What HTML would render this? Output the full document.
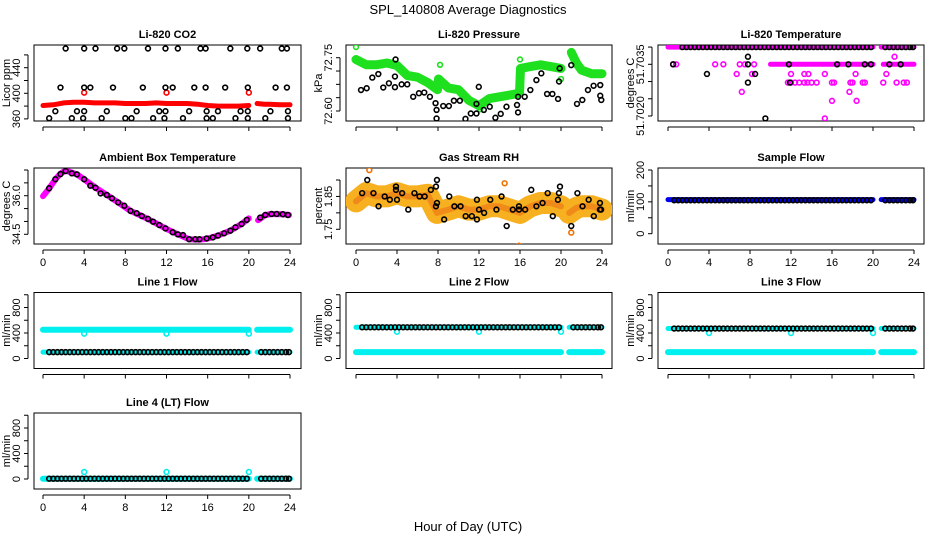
<!DOCTYPE html>
<html><head><meta charset="utf-8"><style>
html,body{margin:0;padding:0;background:#fff;}
svg{display:block;font-family:"Liberation Sans",Arial,sans-serif;}
</style></head><body>
<svg id="chart" width="936" height="540" viewBox="0 0 936 540" xmlns="http://www.w3.org/2000/svg">
<text x="468" y="14" text-anchor="middle" font-size="13">SPL_140808  Average Diagnostics</text>
<text x="468" y="531" text-anchor="middle" font-size="13">Hour of Day (UTC)</text>
</svg>
<script>
// ---------- DATA ----------
const xTicks = [0,4,8,12,16,20,24];
const ringHours = [0.6,1.0,1.4,1.8,2.2,2.6,3.0,3.4,3.8,4.2,4.6,5.0,5.4,5.8,6.2,6.6,7.0,7.4,7.8,8.2,8.6,9.0,9.4,9.8,10.2,10.6,11.0,11.4,11.8,12.2,12.6,13.0,13.4,13.8,14.2,14.6,15.0,15.4,15.8,16.2,16.6,17.0,17.4,17.8,18.2,18.6,19.0,19.4,19.8,21.2,21.6,22.0,22.4,22.8,23.2,23.6,23.9];
const segA = [0,20];
const segB = [20.8,24];
// CO2
const co2BandHours = [0,1,2,3,4,5,6,7,8,9,10,11,12,13,14,15,16,17,18,19,20];
const co2BandValues = [381,382,385,386,386,385,385,385,384,384,384,385,384,384,384,383,381,380,380,380,381];
const co2BandHours2 = [20.8,21.5,22,23,24];
const co2BandValues2 = [384,383,383,382,382];
const co2RedOutHours = [4,12,20];
const co2RedOutValues = [401,401,401];
const co2BlackHours = [2.2,4.0,5.1,7.2,7.9,10.2,11.9,13.1,15.3,15.8,18.2,19.85,21.1,23.2,23.7, 1.7,4.0,4.6,6.8,9.7,11.9,12.6,14.7,15.8,17.7,19.9,22.6,23.7, 1.2,3.3,4.0,6.2,9.1,11.3,11.9,14.2,15.9,17.0,19.2,19.9,22.1,23.8, 0.6,2.8,3.9,5.7,8.0,8.6,10.7,11.8,13.6,15.9,16.5,18.7,19.9,21.6,23.8];
const co2BlackValues = [470,470,470,470,470,470,470,470,470,470,470,470,470,470,470, 409,409,409,409,409,409,409,409,409,409,409,409,409, 372,372,372,372,372,372,372,372,372,372,372,372,372,372, 361,361,361,361,361,361,361,361,361,361,361,361,361,361,361];
// Pressure
const presBandHours = [0,1,2,3,4,5,6,7,7.95,8.05,9,10,11,12,13,14,15,15.95,16.05,17,18,19,20];
const presBandValues = [72.745,72.73,72.73,72.735,72.728,72.70,72.695,72.68,72.66,72.69,72.665,72.66,72.63,72.615,72.635,72.64,72.645,72.65,72.72,72.725,72.73,72.725,72.72];
const presBandHours2 = [21,21.5,22,23,24];
const presBandValues2 = [72.765,72.735,72.715,72.705,72.705];
const presGreenOutHours = [0,8.2,16,20,12.1];
const presGreenOutValues = [72.78,72.73,72.745,72.69,72.605];
const presBlackHours = [0.49,1.04,1.59,2.18,2.66,3.21,3.80,3.86,3.80,4.45,5.0,5.58,6.14,6.66,7.21,7.76,7.86,7.86,8.51,9.06,9.55,10.13,10.68,11.2,11.75,11.75,11.98,12.47,13.05,13.6,14.12,14.68,15.71,15.81,15.81,16.46,17.01,17.6,18.08,18.64,19.16,19.71,19.81,19.87,21.0,21.56,22.08,22.63,23.18,23.83,23.83,23.93];
const presBlackValues = [72.659,72.664,72.694,72.704,72.666,72.678,72.667,72.745,72.697,72.675,72.675,72.64,72.65,72.652,72.64,72.622,72.603,72.579,72.614,72.614,72.629,72.629,72.578,72.593,72.62,72.593,72.668,72.603,72.612,72.581,72.592,72.612,72.617,72.596,72.64,72.64,72.659,72.687,72.706,72.648,72.648,72.634,72.683,72.72,72.729,72.62,72.631,72.659,72.671,72.673,72.643,72.631];
// Li-820 temperature
const tempTopValue = 51.7040;
const tempSecondValue = 51.7035;
const tempSecondSegA = [10,20];
const tempSecondSegB = [21,24];
const tempMagHours = [0.5,0.8,4.6,5.4,7.0,7.5,8.4, 11.7,12.0,12.4,12.8,13.3,13.6,14.0,14.5,16.0,16.2,17.8,18.0,19.0,19.2,21.0,22.3,23.0,23.3, 6.7,8.2,12.0,13.3,13.7,15.3,18.3,21.3, 7.2,17.7, 16.0,18.4, 15.3, 22.1];
const tempMagValues = [51.7035,51.7035,51.7035,51.7035,51.7035,51.7035,51.7035, 51.70297,51.70297,51.70297,51.70297,51.70297,51.70297,51.70297,51.70297,51.70297,51.70297,51.70297,51.70297,51.70297,51.70297,51.70297,51.70297,51.70297,51.70297, 51.70322,51.70322,51.70322,51.70322,51.70322,51.70322,51.70322,51.70322, 51.7027,51.7027, 51.70244,51.70244, 51.70193, 51.70372];
const tempBlackHours = [7.8,7.8,7.8,3.8,8.5,9.5,11.8,11.9,16.5,17.6,19.2,19.8,21.6,22.7,0.5];
const tempBlackValues = [51.70372,51.7035,51.70297,51.70322,51.70322,51.70193,51.7035,51.70297,51.7035,51.7035,51.7035,51.7035,51.7035,51.7035,51.7035];
// Ambient box temperature
const ambBandHours = [0,0.6,1.2,1.7,2.2,2.8,3.3,4.0,5.1,6.2,7.3,8.5,9.6,10.7,11.9,13.1,14.2,15.2,15.9,17.0,18.2,19.3,20.0];
const ambBandValues = [35.98,36.29,36.64,36.86,36.98,36.9,36.83,36.64,36.31,36.03,35.74,35.41,35.21,34.99,34.73,34.5,34.31,34.29,34.32,34.45,34.64,34.9,35.12];
const ambBandHours2 = [20.9,21.6,22.2,23.3,23.9];
const ambBandValues2 = [35.05,35.25,35.29,35.28,35.25];
const ambRingHours = [0.6,1.2,1.7,2.2,2.8,3.3,4.0,4.6,5.1,5.6,6.2,6.7,7.3,7.9,8.5,9.1,9.6,10.2,10.7,11.3,11.9,12.6,13.1,13.6,14.2,14.8,15.2,15.9,16.5,17.0,17.6,18.2,18.7,19.3,19.8,21.1,21.6,22.2,22.7,23.3,23.8];
const ambRingValues = [36.29,36.64,36.84,36.96,36.87,36.83,36.64,36.39,36.31,36.09,36.03,35.9,35.74,35.61,35.41,35.32,35.21,35.10,34.99,34.86,34.73,34.58,34.50,34.47,34.31,34.31,34.31,34.34,34.38,34.45,34.54,34.64,34.77,34.90,35.06,35.15,35.25,35.29,35.29,35.28,35.25];
// Gas stream RH
const rhBandHours = [0,1,2,3,4,5,6,7,7.9,9,10,11,12,13,14,15,16,17,18,19,20];
const rhBandValues = [1.835,1.86,1.85,1.85,1.86,1.85,1.85,1.855,1.80,1.81,1.82,1.81,1.81,1.82,1.82,1.81,1.80,1.82,1.83,1.83,1.82];
const rhBandHours2 = [20.8,21.5,22,23,24];
const rhBandValues2 = [1.80,1.815,1.82,1.82,1.81];
const rhRingHours = [0.6,1.1,1.7,2.2,2.8,3.3,3.9,3.9,4.0,4.5,5.1,5.7,6.2,6.7,7.3,7.8,7.9,7.8,7.9,8.6,9.1,9.6,10.2,10.7,11.3,11.8,11.8,12.0,12.5,13.1,13.7,14.2,14.7,15.3,15.9,15.9,16.5,17.1,17.6,18.2,18.7,19.2,19.7,19.8,19.9,21.0,21.6,22.1,22.7,23.2,23.8,23.8,23.9];
const rhRingValues = [1.86,1.90,1.86,1.82,1.85,1.84,1.88,1.87,1.84,1.86,1.81,1.86,1.85,1.85,1.87,1.88,1.90,1.82,1.83,1.78,1.85,1.82,1.82,1.79,1.79,1.78,1.84,1.81,1.80,1.84,1.81,1.85,1.76,1.81,1.82,1.81,1.81,1.87,1.82,1.83,1.86,1.79,1.84,1.86,1.88,1.76,1.86,1.82,1.84,1.79,1.81,1.83,1.81];
const rhOutHours = [1.3,14.5,15.9,21.0];
const rhOutValues = [1.93,1.89,1.70,1.74];
// Flows
const sampleBandValue = 107;
const sampleRingValue = 105;
const line1CyanValue = 450; const line1BlackValue = 100; const line1OutValue = 390;
const line2CyanValue = 100; const line2BlackValue = 490; const line2OutValue = 420;
const line3CyanValue = 100; const line3BlackValue = 470; const line3OutValue = 400;
const line4CyanValue = 5;   const line4BlackValue = 5;   const line4OutValue = 110;
const outHours = [4,12,20];

// ---------- LAYOUT ----------
const svg = document.getElementById('chart');
const NS = 'http://www.w3.org/2000/svg';
const colX0 = [43,356,668], colX24 = [290,602,914], boxL = [34,346,658], boxR = [301,612,924];
const rowTop = [45,168,292.5,413], boxH = 76;

function el(tag, attrs, parent){ const e=document.createElementNS(NS,tag); for(const k in attrs) e.setAttribute(k,attrs[k]); (parent||svg).appendChild(e); return e; }

function makePanel(opt){
  const c=opt.col, r=opt.row, top=rowTop[r];
  const g = el('g',{});
  
  
  const xs = h => colX0[c] + h*(colX24[c]-colX0[c])/24;
  const k = (opt.y2[1]-opt.y1[1])/(opt.y2[0]-opt.y1[0]);
  const ys = v => top + opt.y1[1] + (v-opt.y1[0])*k;
  const box = el('rect',{x:boxL[c],y:top,width:boxR[c]-boxL[c],height:boxH,fill:'none',stroke:'#000','stroke-width':1},g);
  
  
  const t = el('text',{x:(boxL[c]+boxR[c])/2,y:top-7,'text-anchor':'middle','font-size':11,'font-weight':'bold'},g);
  t.textContent = opt.title;
  
  
  // x axis
  const xa = el('g',{},g);
  
  
  const by = top+boxH+6;
  el('line',{x1:xs(0),x2:xs(24),y1:by,y2:by,stroke:'#000'},xa);
  xTicks.forEach(v=>{
    el('line',{x1:xs(v),x2:xs(v),y1:by,y2:by+4,stroke:'#000'},xa);
    if(opt.xlabels){
      const tl = el('text',{x:xs(v),y:by+16,'text-anchor':'middle','font-size':11},xa);
      tl.textContent = v;
      
      
    }
  });
  // y axis
  const ya = el('g',{},g);
  
  
  const ax = boxL[c]-6;
  el('line',{x1:ax,x2:ax,y1:ys(opt.yTicks[0]),y2:ys(opt.yTicks[opt.yTicks.length-1]),stroke:'#000'},ya);
  opt.yTicks.forEach(v=>{ el('line',{x1:ax-4,x2:ax,y1:ys(v),y2:ys(v),stroke:'#000'},ya); });
  opt.yLabels.forEach((v,i)=>{
    const tx=ax-8, ty=ys(v);
    const tl = el('text',{x:tx,y:ty,'text-anchor':'middle','font-size':11,transform:`rotate(-90 ${tx} ${ty})`},ya);
    tl.textContent = opt.yLabelText ? opt.yLabelText[i] : v;
    
    
  });
  const yt = el('text',{x:boxL[c]-24,y:top+boxH/2,'text-anchor':'middle','font-size':11,transform:`rotate(-90 ${boxL[c]-24} ${top+boxH/2})`},ya);
  yt.textContent = opt.ylab;
  
  
  const clipId='clip'+r+c;
  const cp = el('clipPath',{id:clipId},g); el('rect',{x:boxL[c],y:top,width:boxR[c]-boxL[c],height:boxH},cp);
  const data = el('g',{'clip-path':`url(#${clipId})`},g);
  
  
  return {xs,ys,g:data};
}
function band(p, hours, values, color, w, name){
  const pts = hours.map((h,i)=>p.xs(h).toFixed(1)+','+p.ys(values[i]).toFixed(1)).join(' ');
  const pl = el('polyline',{points:pts,fill:'none',stroke:color,'stroke-width':w,'stroke-linejoin':'round','stroke-linecap':'round'},p.g);
  
  
}
function rings(p, hours, values, color, name, r){
  hours.forEach((h,i)=>{
    const v = Array.isArray(values)?values[i]:values;
    const ci = el('circle',{cx:p.xs(h),cy:p.ys(v),r:r||2.4,fill:'none',stroke:color,'stroke-width':1.6},p.g);
    
    
  });
}

// ---------- PANELS ----------
let p;
p = makePanel({name:'panel-co2',col:0,row:0,title:'Li-820 CO2',ylab:'Licor ppm',y1:[400,48.3],y2:[440,22.7],yTicks:[360,380,400,420,440,460],yLabels:[360,400,440]});
band(p,co2BandHours,co2BandValues,'#f00',5,'co2-band');
band(p,co2BandHours2,co2BandValues2,'#f00',5,'co2-band');
rings(p,co2RedOutHours,co2RedOutValues,'#f00','co2-red-point');
rings(p,co2BlackHours,co2BlackValues,'#000','co2-black-point');

p = makePanel({name:'panel-pressure',col:1,row:0,title:'Li-820 Pressure',ylab:'kPa',y1:[72.75,12.7],y2:[72.60,66],yTicks:[72.60,72.6375,72.675,72.7125,72.75],yLabels:[72.60,72.75],yLabelText:['72.60','72.75']});
band(p,presBandHours,presBandValues,'#1ee01e',9,'pressure-band');
band(p,presBandHours2,presBandValues2,'#1ee01e',9,'pressure-band');
rings(p,presGreenOutHours,presGreenOutValues,'#1ee01e','pressure-green-point');
rings(p,presBlackHours,presBlackValues,'#000','pressure-black-point');

p = makePanel({name:'panel-li820-temperature',col:2,row:0,title:'Li-820 Temperature',ylab:'degrees C',y1:[51.7035,19.3],y2:[51.7020,71],yTicks:[51.7020,51.7025,51.7030,51.7035,51.7040],yLabels:[51.7020,51.7035],yLabelText:['51.7020','51.7035']});
band(p,segA,[tempTopValue,tempTopValue],'#f0f',5,'temp-top-band');
band(p,segB,[tempTopValue,tempTopValue],'#f0f',5,'temp-top-band');
band(p,tempSecondSegA,[tempSecondValue,tempSecondValue],'#f0f',5,'temp-second-band');
band(p,tempSecondSegB,[tempSecondValue,tempSecondValue],'#f0f',5,'temp-second-band');
rings(p,tempMagHours,tempMagValues,'#f0f','temp-magenta-point');
rings(p,ringHours.filter(h=>h>1),tempTopValue,'#000','temp-black-point');
rings(p,tempBlackHours,tempBlackValues,'#000','temp-black-point');

p = makePanel({name:'panel-ambient-temperature',col:0,row:1,title:'Ambient Box Temperature',ylab:'degrees C',y1:[37,2],y2:[34.5,66.3],yTicks:[34.5,35,35.5,36,36.5,37],yLabels:[34.5,36.0],yLabelText:['34.5','36.0'],xlabels:true});
band(p,ambBandHours,ambBandValues,'#f0f',6,'ambient-band');
band(p,ambBandHours2,ambBandValues2,'#f0f',6,'ambient-band');
rings(p,ambRingHours,ambRingValues,'#000','ambient-black-point');

p = makePanel({name:'panel-gas-rh',col:1,row:1,title:'Gas Stream RH',ylab:'percent',y1:[1.90,12],y2:[1.75,61.3],yTicks:[1.75,1.80,1.85,1.90],yLabels:[1.75,1.85],yLabelText:['1.75','1.85'],xlabels:true});
band(p,rhBandHours,rhBandValues,'#f7b020',22,'rh-cloud');
band(p,rhBandHours2,rhBandValues2,'#f7b020',22,'rh-cloud');
band(p,rhBandHours,rhBandValues,'#f08a18',6,'rh-cloud-core');
band(p,rhBandHours2,rhBandValues2,'#f08a18',6,'rh-cloud-core');
rings(p,rhOutHours,rhOutValues,'#f07000','rh-orange-point');
rings(p,rhRingHours,rhRingValues,'#000','rh-black-point');

p = makePanel({name:'panel-sample-flow',col:2,row:1,title:'Sample Flow',ylab:'ml/min',y1:[200,2],y2:[0,65.7],yTicks:[0,50,100,150,200],yLabels:[0,100,200],xlabels:true});
band(p,segA,[sampleBandValue,sampleBandValue],'#0000f0',5,'sample-band');
band(p,segB,[sampleBandValue,sampleBandValue],'#0000f0',5,'sample-band');
rings(p,ringHours,sampleRingValue,'#000','sample-black-point');

const flowCfg = [
  ['panel-line1-flow',0,2,'Line 1 Flow',line1CyanValue,line1BlackValue,line1OutValue,false],
  ['panel-line2-flow',1,2,'Line 2 Flow',line2CyanValue,line2BlackValue,line2OutValue,true],
  ['panel-line3-flow',2,2,'Line 3 Flow',line3CyanValue,line3BlackValue,line3OutValue,true],
  ['panel-line4-flow',0,3,'Line 4 (LT) Flow',line4CyanValue,line4BlackValue,line4OutValue,false]
];
flowCfg.forEach(f=>{
  const q = makePanel({name:f[0],col:f[1],row:f[2],title:f[3],ylab:'ml/min',y1:[0,66],y2:[800,15],yTicks:[0,200,400,600,800,1000],yLabels:[0,400,800],xlabels:f[2]===3});
  band(q,segA,[f[4],f[4]],'#00f0f0',6,'flow-cyan-band');
  band(q,segB,[f[4],f[4]],'#00f0f0',6,'flow-cyan-band');
  band(q,segA,[f[5],f[5]],'#00f0f0',5,'flow-cyan-under');
  band(q,segB,[f[5],f[5]],'#00f0f0',5,'flow-cyan-under');
  rings(q,outHours,f[6],'#00f0f0','flow-cyan-point');
  rings(q,ringHours,f[5],'#000','flow-black-point');
});
</script>
</body></html>
